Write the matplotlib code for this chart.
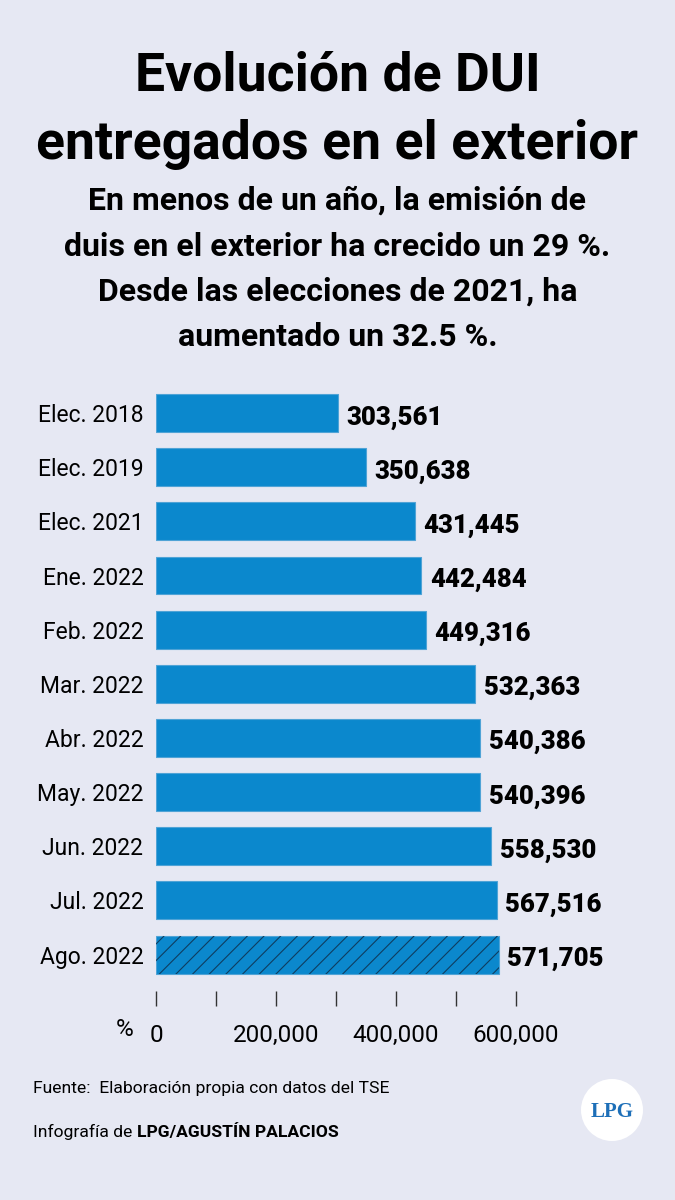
import matplotlib.pyplot as plt
from matplotlib.patches import Ellipse

categories = ["Elec. 2018", "Elec. 2019", "Elec. 2021", "Ene. 2022", "Feb. 2022",
              "Mar. 2022", "Abr. 2022", "May. 2022", "Jun. 2022", "Jul. 2022", "Ago. 2022"]
values = [303561, 350638, 431445, 442484, 449316, 532363, 540386, 540396, 558530, 567516, 571705]
xticks = [0, 100000, 200000, 300000, 400000, 500000, 600000]
xtick_labels = ["0", "", "200,000", "", "400,000", "", "600,000"]

BG = "#e6e8f3"
BLUE = "#0b88cd"
FONT = ["Roboto", "DejaVu Sans"]
plt.rcParams["hatch.linewidth"] = 0.8

fig = plt.figure(figsize=(6.75, 12), dpi=100, facecolor=BG)

# title and subtitle
fig.text(0.5, 1 - 76 / 1200, "Evolución de DUI", ha="center", va="center",
         fontsize=38.5, fontweight="bold", family=FONT)
fig.text(0.5, 1 - 145 / 1200, "entregados en el exterior", ha="center", va="center",
         fontsize=38.5, fontweight="bold", family=FONT)
sub = ["En menos de un año, la emisión de",
       "duis en el exterior ha crecido un 29 %.",
       "Desde las elecciones de 2021, ha",
       "aumentado un 32.5 %."]
for i, line in enumerate(sub):
    fig.text(0.5, 1 - (201 + i * 45.5) / 1200, line, ha="center", va="center",
             fontsize=23, fontweight="bold", family=FONT)

# axes: 0 at x=156px, 100k = 60px
ax = fig.add_axes([156 / 675, 1 - 1006 / 1200, 480 / 675, (1006 - 386) / 1200])
ax.set_facecolor(BG)
y = list(range(len(categories)))
ax.barh(y, values, height=0.7, color=BLUE, edgecolor="#4fa3d6", linewidth=0.8)
# hatch overlay on the latest month (edge colour drives the hatch colour)
ax.barh(y[-1], values[-1], height=0.7, color="none", edgecolor="#0f3d60",
        linewidth=0, hatch="//")

ax.set_xlim(0, 800000)
ax.set_ylim(len(categories) - 0.5 + 0.45, -0.5)
for s in ax.spines.values():
    s.set_visible(False)

ax.set_yticks(y)
ax.set_yticklabels(categories, family=FONT, fontsize=16.5)
ax.tick_params(axis="y", length=0, pad=9)

ax.set_xticks(xticks)
ax.set_xticklabels(xtick_labels, family=FONT, fontsize=17.5)
ax.tick_params(axis="x", direction="in", length=11, width=1, color="#333333", pad=13)

for yi, v in zip(y, values):
    ax.text(v + 14000, yi + 0.08, f"{v:,}", va="center", ha="left",
            fontsize=18.5, fontweight="heavy", family=FONT)

fig.text(125 / 675, 1 - 1030 / 1200, "%", ha="center", va="center", fontsize=17.5, family=FONT)

# footer
fig.text(33 / 675, 1 - 1089 / 1200, "Fuente:  Elaboración propia con datos del TSE",
         ha="left", va="center", fontsize=12.6, family=FONT)
t = fig.text(33 / 675, 1 - 1132 / 1200, "Infografía de ", ha="left", va="center",
             fontsize=12.6, family=FONT)
fig.canvas.draw()
bb = t.get_window_extent()
fig.text(bb.x1 / 675, 1 - 1132 / 1200, "LPG/AGUSTÍN PALACIOS", ha="left", va="center",
         fontsize=12.6, fontweight="bold", family=FONT)

# logo
fig.patches.append(Ellipse((612 / 675, 1 - 1110 / 1200), 62 / 675, 62 / 1200,
                           transform=fig.transFigure, facecolor="white", edgecolor="none"))
fig.text(612 / 675, 1 - 1112 / 1200, "LPG", ha="center", va="center", fontsize=15,
         fontweight="bold", color="#1d6fb8", family=["Liberation Serif", "DejaVu Serif"])

fig.savefig("out.png", dpi=100, facecolor=BG)
